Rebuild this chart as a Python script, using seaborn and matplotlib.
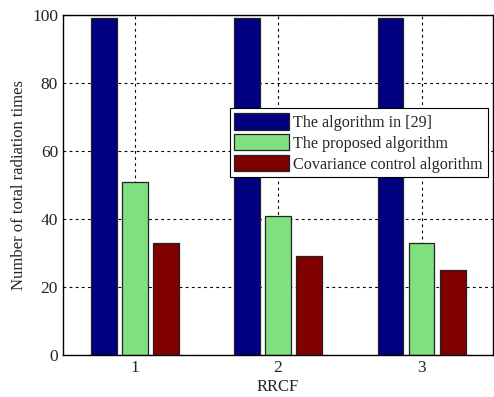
import numpy as np
import pandas as pd
import seaborn as sns
import matplotlib.pyplot as plt

sns.set_style('white')
plt.rcParams['font.family'] = ['Liberation Serif', 'DejaVu Serif']

# Data
groups = ['1', '2', '3']
series = ['The algorithm in [29]', 'The proposed algorithm', 'Covariance control algorithm']
algo29 = [99, 99, 99]
proposed = [51, 41, 33]
covariance = [33, 29, 25]
colors = ['#000080', '#80e080', '#800000']

df = pd.DataFrame({'RRCF': groups * 3,
                   'Method': np.repeat(series, 3),
                   'Count': algo29 + proposed + covariance})

fig = plt.figure(figsize=(4.94, 3.97), dpi=100)
ax = fig.add_axes([0.1275, 0.106, 0.871, 0.856])

sns.barplot(data=df, x='RRCF', y='Count', hue='Method',
            palette=colors, saturation=1, width=0.65, gap=0.17,
            edgecolor='#222222', linewidth=0.9, ax=ax)

ax.set_axisbelow(True)
ax.grid(True, linestyle=(0, (2.5, 3)), color='black', linewidth=0.8)
ax.set(xlim=(-0.5, 2.5), ylim=(0, 100))
ax.set_xlabel('RRCF', fontsize=12, labelpad=2)
ax.set_ylabel('Number of total radiation times', fontsize=12, labelpad=4)
ax.set_yticks(np.arange(0, 101, 20))
ax.tick_params(direction='in', labelsize=12.5, length=4)
for s in ax.spines.values():
    s.set_color('black')
    s.set_linewidth(1.0)

leg = ax.legend(loc='upper left', bbox_to_anchor=(0.387, 0.726),
                fontsize=11.6, handlelength=3.4, handleheight=1.2,
                labelspacing=0.2, handletextpad=0.25, borderpad=0.3,
                borderaxespad=0, fancybox=False, framealpha=1, edgecolor='black')
leg.get_frame().set_linewidth(0.8)

plt.savefig('out.png', dpi=100)
